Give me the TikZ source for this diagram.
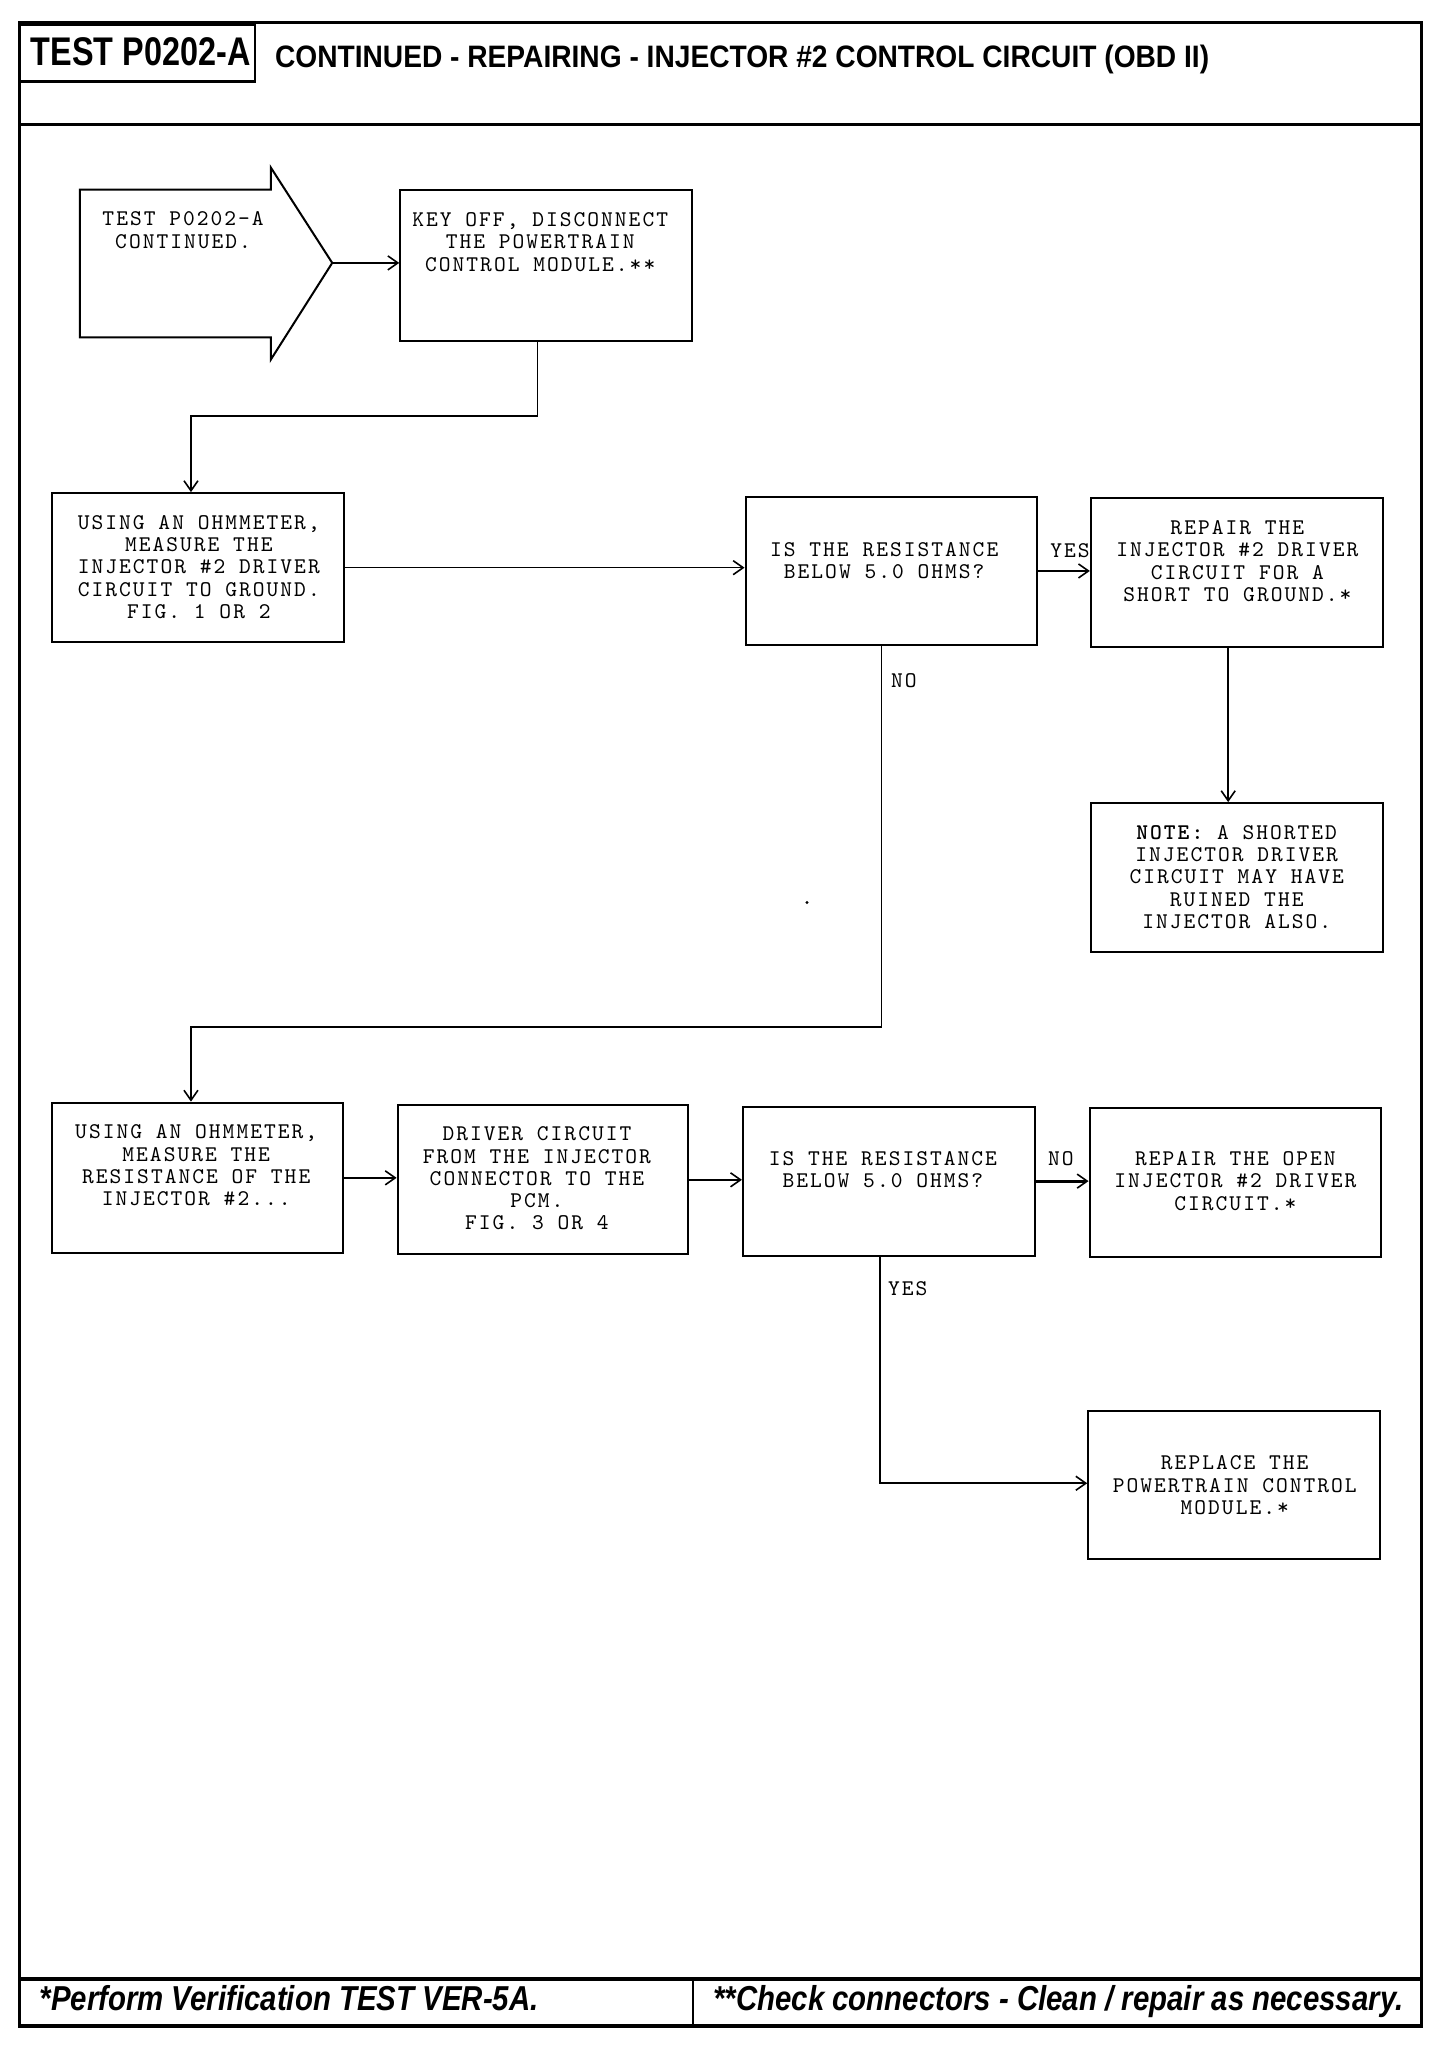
\documentclass[tikz,border=0pt]{standalone}
\usepackage{fontspec}
\newfontfamily\titlefont[FakeStretch=0.81]{Liberation Sans}
\newfontfamily\headfont[FakeStretch=0.908]{Liberation Sans}
\newfontfamily\footfont[FakeStretch=0.85]{Liberation Sans}
\newfontfamily\boxfont[LetterSpace=9]{lmmono10-regular.otf}
\newfontfamily\boxboldfont[LetterSpace=9]{lmmonolt10-bold.otf}
\usetikzlibrary{arrows.meta,fit}
\begin{document}
\begin{tikzpicture}[x=0.654pt,y=-0.654pt,
  box/.style={draw,line width=1pt,inner sep=0pt},
  txt/.style={font={\boxfont\fontsize{11.2}{11.1}\selectfont},align=center,inner sep=0pt},
  arr/.style={line width=0.8pt,-{Straight Barb[length=5pt,width=7pt,line width=0.8pt]}},
  frame/.style={line width=1.6pt}]
\useasboundingbox (0,0) rectangle (1113.1,1567.3);
% frame, header, footer
\draw[frame] (15,17) rectangle (1087,1549);
\draw[frame] (15,95) -- (1087,95);
\draw[frame] (15,1513) -- (1087,1513);
\draw[line width=1.2pt] (530,1513) -- (530,1549);
\node[box,line width=1.4pt,fit={(15,19)(195,62)}] (tbox) {};
\node[font={\titlefont\bfseries\fontsize{20}{24}\selectfont},anchor=base,inner sep=0pt] (ttl) at (107.5,50) {TEST P0202-A};
\node[font={\headfont\bfseries\fontsize{15.5}{18}\selectfont},anchor=base west,inner sep=0pt] (hdr) at (210,51.5) {CONTINUED - REPAIRING - INJECTOR \#2 CONTROL CIRCUIT (OBD II)};
\node[font={\footfont\bfseries\itshape\fontsize{17.3}{20}\selectfont},anchor=base west,inner sep=0pt] (f1) at (30,1537) {*Perform Verification TEST VER-5A.};
\node[font={\footfont\bfseries\itshape\fontsize{17.3}{20}\selectfont},anchor=base west,inner sep=0pt] (f2) at (545,1537) {**Check connectors - Clean / repair as necessary.};
% block arrow
\draw[line width=1pt] (61,145) -- (207,145) -- (207,128) -- (254,201) -- (207,275) -- (207,258) -- (61,258) -- cycle;
\coordinate (tip) at (254,201);
\node[txt] (t0) at (140,176) {TEST P0202-A\\CONTINUED.};
% boxes
\node[box,fit={(306,145)(529,261)}] (box2) {};
\node[txt] (t2) at (413,185) {KEY OFF, DISCONNECT\\THE POWERTRAIN\\CONTROL MODULE.**};
\node[box,fit={(40,377)(263,491)}] (box3) {};
\node[txt] (t3) at (152,433.5) {USING AN OHMMETER,\\MEASURE THE\\INJECTOR \#2 DRIVER\\CIRCUIT TO GROUND.\\FIG. 1 OR 2};
\node[box,fit={(570,380)(793,493)}] (box4) {};
\node[txt] (t4) at (676,428.5) {IS THE RESISTANCE\\BELOW 5.0 OHMS?};
\node[box,fit={(834,381)(1057,495)}] (box5) {};
\node[txt] (t5) at (946,429) {REPAIR THE\\INJECTOR \#2 DRIVER\\CIRCUIT FOR A\\SHORT TO GROUND.*};
\node[box,fit={(834,614)(1057,728)}] (box6) {};
\node[txt] (t6) at (945.5,670.5) {{\boxboldfont NOTE:} A SHORTED\\INJECTOR DRIVER\\CIRCUIT MAY HAVE\\RUINED THE\\INJECTOR ALSO.};
\node[box,fit={(40,843)(262,958)}] (box7) {};
\node[txt] (t7) at (150,891) {USING AN OHMMETER,\\MEASURE THE\\RESISTANCE OF THE\\INJECTOR \#2...};
\node[box,fit={(304,845)(526,959)}] (box8) {};
\node[txt] (t8) at (410.5,901) {DRIVER CIRCUIT\\FROM THE INJECTOR\\CONNECTOR TO THE\\PCM.\\FIG. 3 OR 4};
\node[box,fit={(568,846)(791,960)}] (box9) {};
\node[txt] (t9) at (675,894) {IS THE RESISTANCE\\BELOW 5.0 OHMS?};
\node[box,fit={(833,847)(1056,961)}] (box10) {};
\node[txt] (t10) at (944.5,903) {REPAIR THE OPEN\\INJECTOR \#2 DRIVER\\CIRCUIT.*};
\node[box,fit={(832,1079)(1055,1192)}] (box11) {};
\node[txt] (t11) at (944,1135.5) {REPLACE THE\\POWERTRAIN CONTROL\\MODULE.*};
% labels
\node[txt] (yes1) at (818,421) {YES};
\node[txt] (no1) at (691,520) {NO};
\node[txt] (no2) at (811,886) {NO};
\node[txt] (yes2) at (694,985) {YES};
% connectors
\draw[arr] (tip) -- (tip -| box2.west);
\coordinate (j1) at (411,318);
\coordinate (j2) at (146,318);
\draw[arr] (j1 |- box2.south) -- (j1) -- (j2) -- (j2 |- box3.north);
\draw[arr] (box3.east) -- (box3.east -| box4.west);
\draw[arr] (box4.east) -- (box4.east -| box5.west);
\coordinate (j3) at (939,500);
\draw[arr] (j3 |- box5.south) -- (j3 |- box6.north);
\coordinate (j4) at (674,785);
\coordinate (j5) at (146,785);
\draw[arr] (j4 |- box4.south) -- (j4) -- (j5) -- (j5 |- box7.north);
\draw[arr] (box7.east) -- (box7.east -| box8.west);
\draw[arr] (box8.east) -- (box8.east -| box9.west);
\draw[arr,line width=1.4pt] (box9.east) -- (box9.east -| box10.west);
\coordinate (j6) at (673,1134);
\draw[arr] (j6 |- box9.south) -- (j6) -- (j6 -| box11.west);
% speck
\fill (617,690) circle (1.2);
\end{tikzpicture}
\end{document}
